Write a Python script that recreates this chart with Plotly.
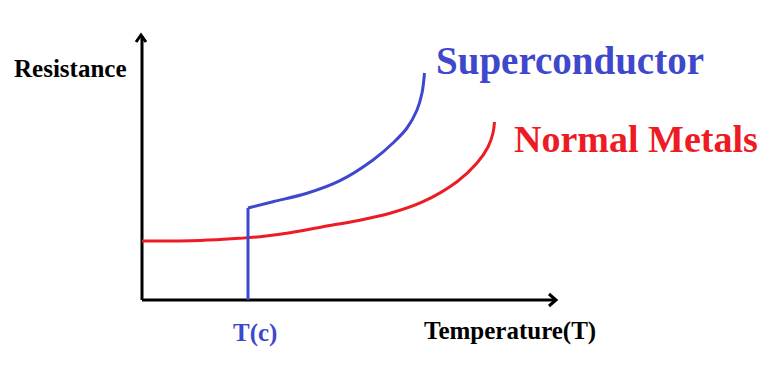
import plotly.graph_objects as go

# Data (arbitrary units: temperature from axis origin, resistance above axis)
normal_T = [0, 58, 98, 118, 148, 181, 215, 248, 281, 315, 335, 346, 351, 352.5]
normal_R = [59, 59.5, 61.7, 63.3, 67.3, 73.3, 79.3, 86.7, 98.3, 118.3, 137, 153, 167, 178]

Tc = 106
super_T = [106, 131, 165, 198, 231, 251, 265, 275, 280, 282.5]
super_R = [92, 98.3, 106.7, 119.3, 140, 157, 172, 190, 207, 227]

axis_T_max = 414
axis_R_max = 264

BLUE = "#3F48CC"
RED = "#ED1C24"
FONT = "Liberation Serif"

fig = go.Figure()

# axes
fig.add_trace(go.Scatter(x=[0, 0], y=[0, axis_R_max], mode="lines",
                         line=dict(color="black", width=3)))
fig.add_trace(go.Scatter(x=[0, axis_T_max], y=[0, 0], mode="lines",
                         line=dict(color="black", width=3)))
# arrow heads (chevrons)
fig.add_trace(go.Scatter(x=[-6, -1, 4], y=[258, 265, 258], mode="lines",
                         line=dict(color="black", width=3)))
fig.add_trace(go.Scatter(x=[407, 414, 407], y=[6, 0, -6], mode="lines",
                         line=dict(color="black", width=3)))

# normal metal curve
fig.add_trace(go.Scatter(x=normal_T, y=normal_R, mode="lines",
                         line=dict(color=RED, width=3, shape="spline", smoothing=1.0)))
# superconductor: drop at Tc then curve
fig.add_trace(go.Scatter(x=[Tc, Tc], y=[0, super_R[0]], mode="lines",
                         line=dict(color=BLUE, width=3)))
fig.add_trace(go.Scatter(x=super_T, y=super_R, mode="lines",
                         line=dict(color=BLUE, width=3, shape="spline", smoothing=1.0)))

def label(text, x, y, size, color):
    fig.add_annotation(x=x, y=y, xref="x", yref="y", text="<b>" + text + "</b>",
                       showarrow=False, xanchor="left", yanchor="middle",
                       font=dict(family=FONT, size=size, color=color))

label("Resistance", -130, 232, 25, "black")
label("Superconductor", 292, 239, 39, BLUE)
label("Normal Metals", 370, 161, 38, RED)
label("Temperature(T)", 280, -31, 25, "black")
label("T(c)", 89, -33, 25, BLUE)

fig.update_layout(
    width=765, height=378,
    margin=dict(l=0, r=0, t=0, b=0),
    paper_bgcolor="white", plot_bgcolor="white",
    showlegend=False,
    xaxis=dict(range=[-142, 623], visible=False, fixedrange=True),
    yaxis=dict(range=[-78, 300], visible=False, fixedrange=True),
    hovermode=False,
)

fig.write_html("out.html", config={"displayModeBar": False},
               post_script="document.body.style.margin='0';document.body.style.overflow='hidden';")
